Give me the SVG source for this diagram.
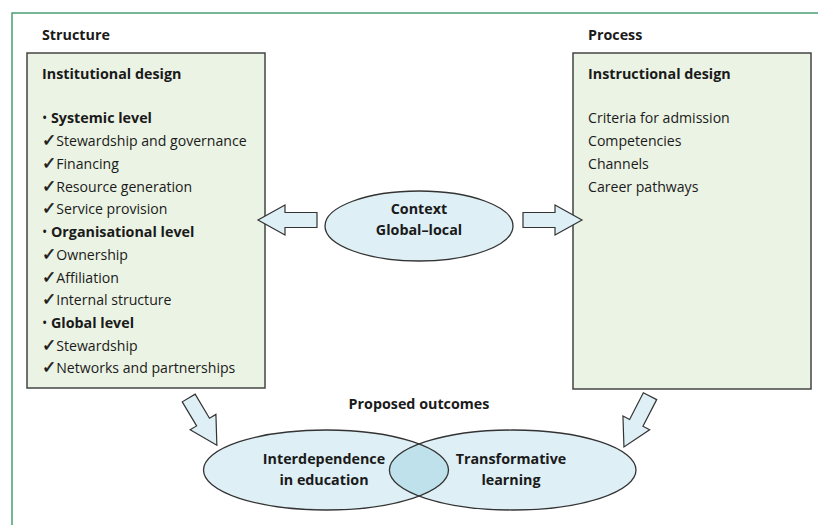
<svg xmlns="http://www.w3.org/2000/svg" width="818" height="525" viewBox="0 0 818 525">
<style>
  .frame { fill: none; stroke: #4a9e74; stroke-width: 1.5; }
  .box { fill: #ebf3e4; stroke: #444; stroke-width: 1.5; }
  .ell { fill: #deeff5; }
  .ellline { fill: none; stroke: #333; stroke-width: 1.3; }
  .arrow { fill: #deeff5; stroke: #333; stroke-width: 1.2; stroke-linejoin: miter; }
  text { font-family: "Open Sans", "Noto Sans", "DejaVu Sans", sans-serif; font-size: 14.1px; fill: #1a1a1a; }
  .b { font-weight: bold; font-size: 14.3px; }
  .c { text-anchor: middle; }
  .ck { font-family: "DejaVu Sans", sans-serif; font-size: 17px; stroke: #1a1a1a; stroke-width: 0.6; }
</style>
<defs>
  <clipPath id="clipLeft"><ellipse cx="326" cy="470" rx="122.5" ry="40"/></clipPath>
</defs>
<polyline class="frame" points="12,525 12,13 818,13"/>

<g id="structure">
  <text class="b" x="42" y="40">Structure</text>
  <rect class="box" x="27" y="53" width="238" height="335"/>
  <text class="b" x="42" y="79">Institutional design</text>
  <text x="42" y="123"><tspan>• </tspan><tspan class="b">Systemic level</tspan></text>
  <text x="42" y="146"><tspan class="ck">✓</tspan>Stewardship and governance</text>
  <text x="42" y="168.5"><tspan class="ck">✓</tspan>Financing</text>
  <text x="42" y="191.5"><tspan class="ck">✓</tspan>Resource generation</text>
  <text x="42" y="214"><tspan class="ck">✓</tspan>Service provision</text>
  <text x="42" y="237"><tspan>• </tspan><tspan class="b">Organisational level</tspan></text>
  <text x="42" y="259.5"><tspan class="ck">✓</tspan>Ownership</text>
  <text x="42" y="282.5"><tspan class="ck">✓</tspan>Affiliation</text>
  <text x="42" y="305"><tspan class="ck">✓</tspan>Internal structure</text>
  <text x="42" y="328"><tspan>• </tspan><tspan class="b">Global level</tspan></text>
  <text x="42" y="350.5"><tspan class="ck">✓</tspan>Stewardship</text>
  <text x="42" y="373"><tspan class="ck">✓</tspan>Networks and partnerships</text>
</g>

<g id="process">
  <text class="b" x="588" y="40">Process</text>
  <rect class="box" x="573" y="53" width="238" height="336"/>
  <text class="b" x="588" y="79">Instructional design</text>
  <text x="588" y="123">Criteria for admission</text>
  <text x="588" y="146">Competencies</text>
  <text x="588" y="168.5">Channels</text>
  <text x="588" y="191.5">Career pathways</text>
</g>

<g id="context">
  <ellipse class="ell" cx="419" cy="226" rx="94" ry="35"/>
  <ellipse class="ellline" cx="419" cy="226" rx="94" ry="35"/>
  <text class="b c" x="419" y="213.5">Context</text>
  <text class="b c" x="419" y="234.5">Global–local</text>
</g>

<g id="outcomes">
  <text class="b c" x="419" y="408.5">Proposed outcomes</text>
  <ellipse class="ell" cx="326" cy="470" rx="122.5" ry="40"/>
  <ellipse class="ell" cx="512.7" cy="470" rx="123.3" ry="40"/>
  <ellipse cx="512.7" cy="470" rx="123.3" ry="40" fill="#bfe1eb" clip-path="url(#clipLeft)"/>
  <ellipse class="ellline" cx="326" cy="470" rx="122.5" ry="40"/>
  <ellipse class="ellline" cx="512.7" cy="470" rx="123.3" ry="40"/>
  <g id="interdependence">
    <text class="b c" x="324" y="464">Interdependence</text>
    <text class="b c" x="324" y="484.5">in education</text>
  </g>
  <g id="transformative">
    <text class="b c" x="511" y="464">Transformative</text>
    <text class="b c" x="511" y="484.5">learning</text>
  </g>
</g>

<g id="connectors">
  <path class="arrow" transform="translate(317,220) rotate(180)" d="M0,-7.5 H32 V-15 L59,0 L32,15 V7.5 H0 Z"/>
  <path class="arrow" transform="translate(523,220)" d="M0,-7.5 H32 V-15 L59,0 L32,15 V7.5 H0 Z"/>
  <path class="arrow" transform="translate(188.7,398) rotate(59.2)" d="M0,-7.5 H28 V-15 L55,0 L28,15 V7.5 H0 Z"/>
  <path class="arrow" transform="translate(650,396.2) rotate(117.2)" d="M0,-7.5 H30 V-15 L57,0 L30,15 V7.5 H0 Z"/>
</g>
</svg>
